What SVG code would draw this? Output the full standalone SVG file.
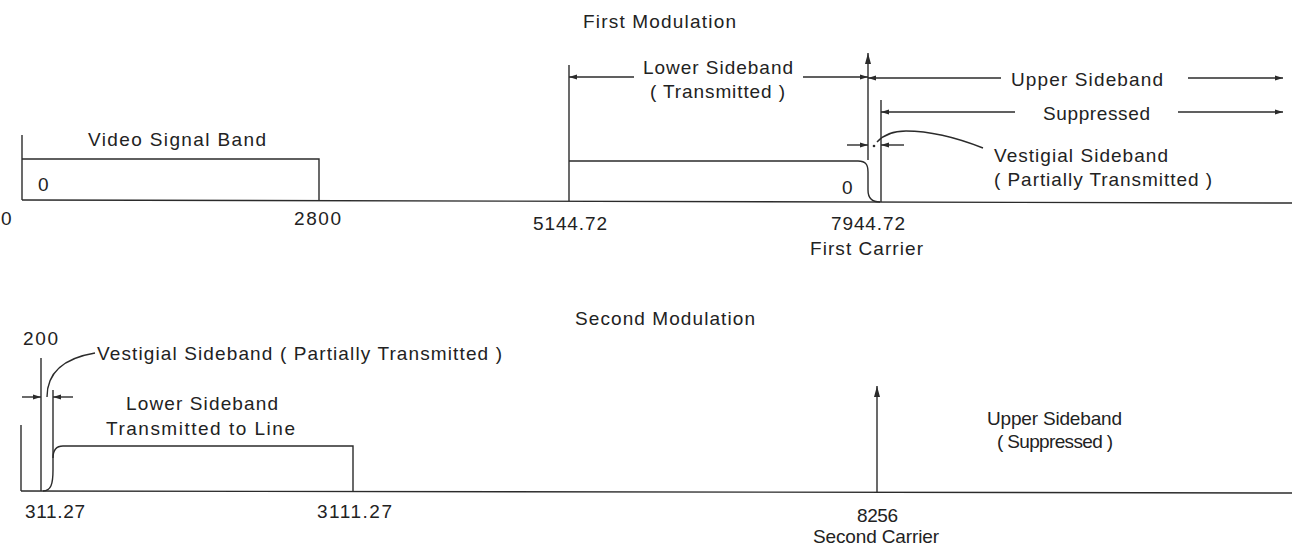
<svg xmlns="http://www.w3.org/2000/svg" width="1292" height="550" viewBox="0 0 1292 550">
<style>
.ln{stroke:#2b2b2b;stroke-width:1.4;fill:none}
.t{font-family:"Liberation Sans",Arial,sans-serif;font-size:19px;fill:#222}
.dot{fill:#2b2b2b}
</style>
<defs>
<marker id="ah" viewBox="0 0 8 6" refX="8" refY="3" markerWidth="8" markerHeight="6" markerUnits="userSpaceOnUse" orient="auto">
<path d="M0,0.5 L8,3 L0,5.5 z" fill="#2b2b2b"/>
</marker>
<marker id="ahc" viewBox="0 0 11 6" refX="11" refY="3" markerWidth="11" markerHeight="6" markerUnits="userSpaceOnUse" orient="auto">
<path d="M0,0 L11,3 L0,6 z" fill="#2b2b2b"/>
</marker>
</defs>
<rect width="1292" height="550" fill="#fff"/>

<!-- ===== First Modulation ===== -->
<g id="title-first">
<text class="t" x="583" y="28" textLength="153" lengthAdjust="spacing">First Modulation</text>
</g>

<g id="top-axis">
<line class="ln" x1="22" y1="200" x2="1292" y2="203"/>
<text class="t" x="1" y="225">0</text>
</g>

<g id="video-band">
<line class="ln" x1="22" y1="135" x2="22" y2="200"/>
<path class="ln" d="M22,159 H319 V201"/>
<text class="t" x="88" y="146" textLength="178" lengthAdjust="spacing">Video Signal Band</text>
<text class="t" x="38" y="191">0</text>
<text class="t" x="294" y="225" textLength="47" lengthAdjust="spacing">2800</text>
</g>

<g id="lower-sideband-1">
<line class="ln" x1="569" y1="65" x2="569" y2="201"/>
<path class="ln" d="M569,161 H858 C866,161 868,165 868,172 V190 C868,198 872,202 880,202"/>
<text class="t" x="643" y="74" textLength="150" lengthAdjust="spacing">Lower Sideband</text>
<text class="t" x="650" y="98" textLength="135" lengthAdjust="spacing">( Transmitted )</text>
<text class="t" x="842" y="194">0</text>
<text class="t" x="533" y="230" textLength="74" lengthAdjust="spacing">5144.72</text>
</g>

<g id="first-carrier">
<text class="t" x="831" y="230" textLength="74" lengthAdjust="spacing">7944.72</text>
<text class="t" x="810" y="255" textLength="113" lengthAdjust="spacing">First Carrier</text>
</g>

<g id="upper-sideband-1">
<line class="ln" x1="881" y1="100" x2="881" y2="202"/>
<text class="t" x="1011" y="86" textLength="152" lengthAdjust="spacing">Upper Sideband</text>
<text class="t" x="1043" y="120" textLength="107" lengthAdjust="spacing">Suppressed</text>
</g>

<g id="vestigial-1">
<circle class="dot" cx="874" cy="146" r="1.3"/>
<text class="t" x="994" y="162" textLength="174" lengthAdjust="spacing">Vestigial Sideband</text>
<text class="t" x="994" y="186" textLength="218" lengthAdjust="spacing">( Partially Transmitted )</text>
</g>

<!-- ===== Second Modulation ===== -->
<g id="title-second">
<text class="t" x="575" y="325" textLength="180" lengthAdjust="spacing">Second Modulation</text>
</g>

<g id="bottom-axis">
<line class="ln" x1="21" y1="491" x2="1292" y2="493"/>
<line class="ln" x1="21" y1="425" x2="21" y2="491"/>
<text class="t" x="25" y="518" textLength="60" lengthAdjust="spacing">311.27</text>
</g>

<g id="lower-sideband-2">
<line class="ln" x1="41" y1="358" x2="41" y2="491"/>
<line class="ln" x1="53" y1="390" x2="53" y2="458"/>
<path class="ln" d="M43,491 C51,491 53,484 53,470 V458 C53,450 56,446 63,446 H353 V492"/>
<text class="t" x="126" y="410" textLength="152" lengthAdjust="spacing">Lower Sideband</text>
<text class="t" x="106" y="435" textLength="189" lengthAdjust="spacing">Transmitted to Line</text>
<text class="t" x="317" y="518" textLength="75" lengthAdjust="spacing">3111.27</text>
</g>

<g id="vestigial-2">
<text class="t" x="23" y="345" textLength="35" lengthAdjust="spacing">200</text>
<text class="t" x="97" y="360" textLength="405" lengthAdjust="spacing">Vestigial Sideband ( Partially Transmitted )</text>
</g>

<g id="second-carrier">
<text class="t" x="857" y="522" textLength="41" lengthAdjust="spacing">8256</text>
<text class="t" x="813" y="543" textLength="126" lengthAdjust="spacing">Second Carrier</text>
</g>

<g id="upper-sideband-2">
<text class="t" x="987" y="425" textLength="135" lengthAdjust="spacing">Upper Sideband</text>
<text class="t" x="997" y="448" textLength="116" lengthAdjust="spacing">( Suppressed )</text>
</g>

<!-- ===== Connectors ===== -->
<g id="connectors">
<!-- first carrier arrow -->
<line class="ln" x1="868" y1="160" x2="868" y2="53" marker-end="url(#ahc)"/>
<!-- lower sideband dimension -->
<line class="ln" x1="634" y1="77" x2="569" y2="77" marker-end="url(#ah)"/>
<line class="ln" x1="803" y1="77" x2="868" y2="77" marker-end="url(#ah)"/>
<!-- upper sideband dimension -->
<line class="ln" x1="1001" y1="78" x2="868" y2="78" marker-end="url(#ah)"/>
<line class="ln" x1="1188" y1="78" x2="1283" y2="78" marker-end="url(#ah)"/>
<!-- suppressed dimension -->
<line class="ln" x1="1015" y1="112" x2="881" y2="112" marker-end="url(#ah)"/>
<line class="ln" x1="1178" y1="112" x2="1283" y2="112" marker-end="url(#ah)"/>
<!-- vestigial dimension (top) -->
<line class="ln" x1="847" y1="145" x2="868" y2="145" marker-end="url(#ah)"/>
<line class="ln" x1="904" y1="145" x2="881" y2="145" marker-end="url(#ah)"/>
<path class="ln" d="M877,142 Q887,131 906,131 Q940,131 983,148"/>
<!-- vestigial dimension (bottom) -->
<line class="ln" x1="22" y1="397" x2="41" y2="397" marker-end="url(#ah)"/>
<line class="ln" x1="73" y1="397" x2="53" y2="397" marker-end="url(#ah)"/>
<path class="ln" d="M47,397 C47,372 65,358 95,353"/>
<!-- second carrier arrow -->
<line class="ln" x1="877" y1="492" x2="877" y2="386" marker-end="url(#ahc)"/>
</g>
</svg>
